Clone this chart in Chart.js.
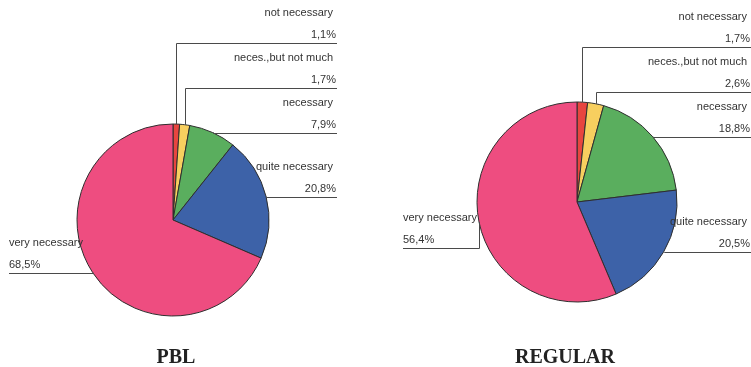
<!DOCTYPE html>
<html>
<head>
<meta charset="utf-8">
<script src="https://cdn.jsdelivr.net/npm/chart.js@4.4.1/dist/chart.umd.min.js"></script>
<style>
  html, body { margin: 0; padding: 0; background: #fff; }
  #wrap { position: relative; width: 751px; height: 367px; }
  .pane { position: absolute; top: 0; height: 367px; }
</style>
</head>
<body>
<div id="wrap">
  <div class="pane" style="left:0;width:375px"><canvas id="pblChart"></canvas></div>
  <div class="pane" style="left:375px;width:376px"><canvas id="regChart"></canvas></div>
</div>
<script>
const categories = ["not necessary", "neces.,but not much", "necessary", "quite necessary", "very necessary"];
const pblValues = [1.1, 1.7, 7.9, 20.8, 68.5];
const regularValues = [1.7, 2.6, 18.8, 20.5, 56.4];
const groupNames = ["PBL", "REGULAR"];

const sliceColors = ["#e8453f", "#f7cf5f", "#5aae5e", "#3d62a8", "#ee4d80"];

function fmt(v) {
    return v.toFixed(1).replace(".", ",") + "%";
}

// leader lines + two-line labels, then the group name underneath
const pieLabels = {
    id: "pieLabels",
    afterDraw(chart, args, opts) {
        const ctx = chart.ctx;
        const meta = chart.getDatasetMeta(0);
        const values = chart.data.datasets[0].data;
        const step = 45;

        const items = meta.data.map((arc, i) => {
            const p = arc.getProps(["x", "y", "startAngle", "endAngle", "outerRadius"], true);
            const a = (p.startAngle + p.endAngle) / 2;
            return {
                i: i,
                cx: p.x, cy: p.y, r: p.outerRadius,
                ex: p.x + p.outerRadius * Math.cos(a),
                ey: p.y + p.outerRadius * Math.sin(a),
                right: Math.cos(a) >= 0
            };
        });

        // right side: stack from the bottom up so labels don't collide
        const rights = items.filter(d => d.right).sort((a, b) => b.ey - a.ey);
        let limit = Infinity;
        rights.forEach(d => {
            d.ly = Math.min(d.ey, limit);
            limit = d.ly - step;
        });
        items.filter(d => !d.right).forEach(d => {
            d.ly = Math.max(d.ey, d.cy + 46);
        });

        ctx.save();
        ctx.strokeStyle = "#4a4a4a";
        ctx.lineWidth = 1;
        ctx.fillStyle = "#333";
        ctx.font = "11px 'Liberation Sans', Arial, sans-serif";
        ctx.textBaseline = "middle";

        items.forEach(d => {
            const reach = d.r + opts.reach;
            const outer = d.right ? d.cx + reach : d.cx - reach;
            const ly = Math.round(d.ly) + 0.5;
            ctx.beginPath();
            ctx.moveTo(Math.round(d.ex) + 0.5, d.ey);
            if (Math.abs(d.ly - d.ey) > 3) {
                ctx.lineTo(Math.round(d.ex) + 0.5, ly);
            }
            ctx.lineTo(Math.round(d.ex) + 0.5, ly);
            ctx.lineTo(outer, ly);
            ctx.stroke();

            if (d.right) {
                ctx.textAlign = "right";
                ctx.fillText(categories[d.i], outer - 4, ly - 31);
                ctx.fillText(fmt(values[d.i]), outer - 1, ly - 9);
            } else {
                ctx.textAlign = "left";
                ctx.fillText(categories[d.i], outer, ly - 31);
                ctx.fillText(fmt(values[d.i]), outer, ly - 9);
            }
        });

        ctx.fillStyle = "#222";
        ctx.font = "bold 20px 'Liberation Serif', 'Times New Roman', serif";
        ctx.textAlign = "center";
        ctx.fillText(opts.title, opts.titleX, 358);
        ctx.restore();
    }
};

function makePie(id, values, title, radius, padding, reach, titleX) {
    return new Chart(document.getElementById(id), {
        type: "pie",
        data: {
            labels: categories,
            datasets: [{
                data: values,
                backgroundColor: sliceColors,
                borderColor: "#2e2e2e",
                borderWidth: 1
            }]
        },
        options: {
            responsive: true,
            maintainAspectRatio: false,
            animation: false,
            radius: radius,
            layout: { padding: padding },
            plugins: {
                legend: { display: false },
                tooltip: { enabled: false },
                pieLabels: { title: title, reach: reach, titleX: titleX }
            }
        },
        plugins: [pieLabels]
    });
}

makePie("pblChart", pblValues, groupNames[0], 96,
    { left: 63, right: 92, top: 110, bottom: 37 }, 68, 176);
makePie("regChart", regularValues, groupNames[1], 100,
    { left: 92, right: 64, top: 92, bottom: 55 }, 74, 190);
</script>
</body>
</html>
